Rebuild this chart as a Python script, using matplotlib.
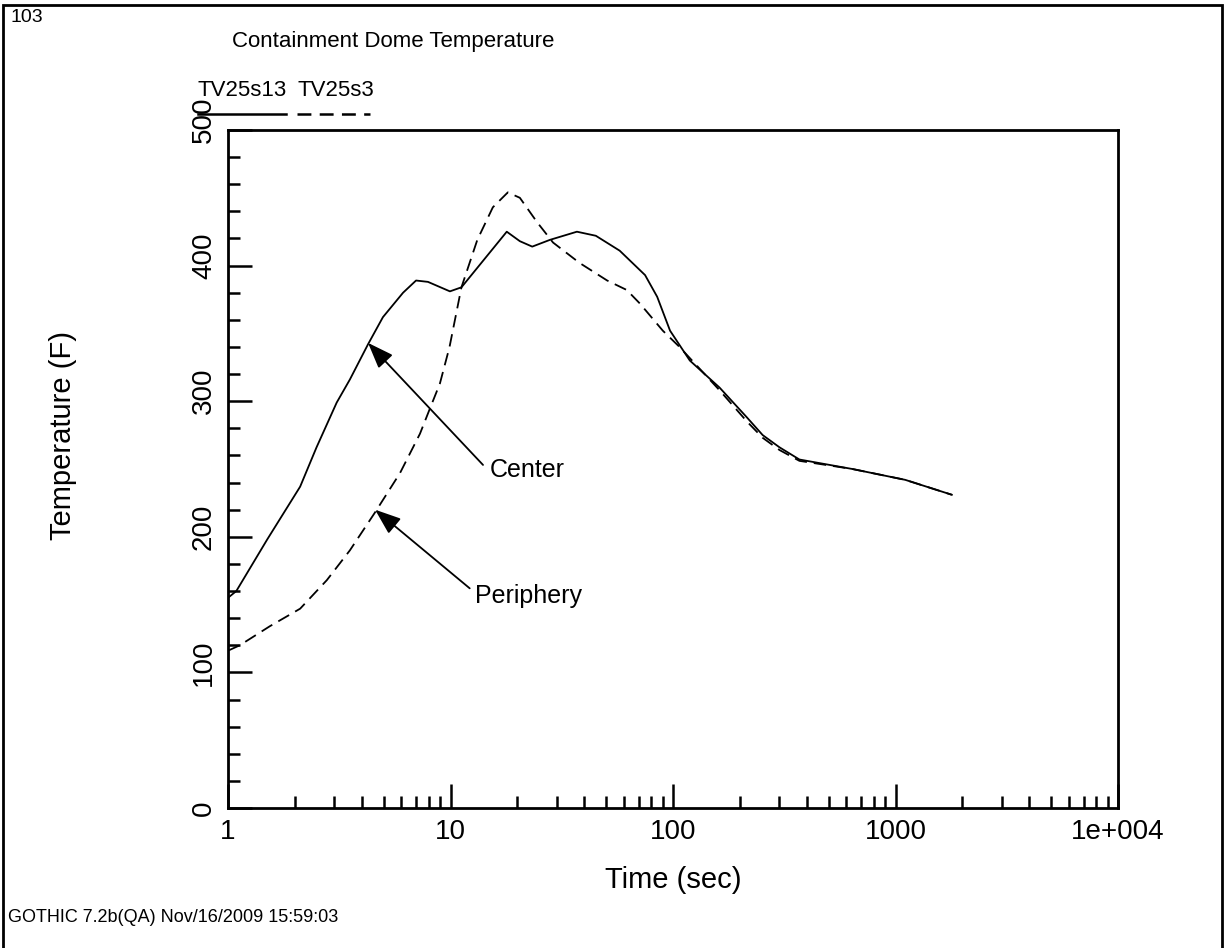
import numpy as np
import matplotlib
matplotlib.use('Agg')
import matplotlib.pyplot as plt
from matplotlib.lines import Line2D
from matplotlib.patches import Rectangle
from matplotlib.ticker import FixedLocator, FixedFormatter, NullFormatter
from matplotlib.transforms import ScaledTranslation


plt.rcParams['font.family'] = ['Liberation Sans', 'DejaVu Sans']
plt.rcParams['lines.scale_dashes'] = False


# Values.
center_t = [1.0, 1.09, 1.5, 2.11, 2.5, 3.08, 3.53, 4.26, 4.97, 6.12, 7.0, 7.92,
            9.94, 11.2, 17.9, 20.5, 23.3, 28.0, 37.0, 45.0, 57.6, 74.9, 84.9,
            97.0, 119, 162, 215, 253, 301, 370, 640, 1106, 1791]
center_T = [155, 160, 198, 237, 266, 299, 316, 342, 362, 380, 389, 388,
            381, 384, 425, 418, 414, 419, 425, 422, 411, 393, 377,
            352, 330, 310, 288, 275, 266, 257, 250, 242, 231]

periph_t = [1.0, 1.13, 1.54, 2.11, 2.78, 3.53, 4.58, 5.93, 7.29, 8.1, 8.96,
            9.9, 11.2, 13.2, 15.5, 18.1, 20.5, 24.5, 28.9, 38.0, 50.6, 62.0,
            71.0, 90.0, 107, 162, 215, 253, 301, 370, 640, 1106, 1791]
periph_T = [116, 120, 134, 147, 168, 190, 218, 247, 276, 295, 313,
            340, 384, 419, 443, 454, 450, 432, 417, 402, 389, 382,
            372, 352, 340, 308, 285, 273, 264, 256, 250, 242, 231]

x_ticks = [1, 10, 100, 1000, 10000]
x_labels = ['1', '10', '100', '1000', '1e+004']
y_ticks = [0, 100, 200, 300, 400, 500]
y_labels = ['0', '100', '200', '300', '400', '500']

series_names = ['TV25s13', 'TV25s3']


fig = plt.figure(figsize=(12.27, 9.48), dpi=100)
ax = fig.add_axes([228 / 1227, 1 - 808 / 948, 890 / 1227, 678 / 948])

dash = (9, 5)
ax.plot(center_t, center_T, color='black', lw=1.3)
ax.plot(periph_t, periph_T, color='black', lw=1.3, dashes=dash)

ax.set_xscale('log')
ax.set_xlim(1, 1e4)
ax.set_ylim(0, 500)

ax.xaxis.set_major_locator(FixedLocator(x_ticks))
ax.xaxis.set_major_formatter(FixedFormatter(x_labels))
minor_x = [m * 10 ** d for d in range(4) for m in range(2, 10)]
ax.xaxis.set_minor_locator(FixedLocator(minor_x))
ax.xaxis.set_minor_formatter(NullFormatter())

ax.yaxis.set_major_locator(FixedLocator(y_ticks))
ax.yaxis.set_major_formatter(FixedFormatter(y_labels))
ax.yaxis.set_minor_locator(FixedLocator(np.arange(0, 501, 20)))

ax.tick_params(which='both', direction='in', top=False, right=False,
               width=1.8, labelsize=20)
ax.tick_params(which='major', length=17, pad=8)
ax.tick_params(which='minor', length=8.5)
ax.tick_params(axis='y', pad=8)

# the 3-digit y labels sit a little above their ticks in the original
nudge = ScaledTranslation(0, 10 / 100, fig.dpi_scale_trans)
for i, tick in enumerate(ax.yaxis.get_major_ticks()):
    tick.label1.set_rotation(90)
    tick.label1.set_va('center')
    if i > 0:
        tick.label1.set_transform(tick.label1.get_transform() + nudge)

for sp in ax.spines.values():
    sp.set_linewidth(2)

ax.set_xlabel('Time (sec)', fontsize=21, labelpad=15)
ax.set_ylabel('Temperature (F)', fontsize=21)
ax.yaxis.set_label_coords(-0.170, 0.549)

# Arrows pointing at each curve.
arrow = dict(arrowstyle='-|>,head_length=1.6,head_width=0.6',
             color='black', lw=1.3, shrinkA=0, shrinkB=0)
ax.annotate('', xy=(4.26, 343), xytext=(14.0, 253), arrowprops=arrow)
ax.text(15.0, 249, 'Center', fontsize=18, va='center', ha='left')
ax.annotate('', xy=(4.58, 220), xytext=(12.2, 162), arrowprops=arrow)
ax.text(12.9, 156, 'Periphery', fontsize=18, va='center', ha='left')

# Legend strip above the axes.
fig.text(198 / 1227, 1 - 90 / 948, series_names[0], fontsize=16, va='center')
fig.text(298 / 1227, 1 - 90 / 948, series_names[1], fontsize=16, va='center')
fig.add_artist(Line2D([198 / 1227, 286 / 1227], [1 - 114 / 948] * 2,
                      color='black', lw=1.8))
fig.add_artist(Line2D([297 / 1227, 370 / 1227], [1 - 114 / 948] * 2,
                      color='black', lw=1.8, dashes=(10, 6)))

fig.text(232 / 1227, 1 - 42 / 948, 'Containment Dome Temperature',
         fontsize=16, va='center')
fig.text(10 / 1227, 1 - 18 / 948, '103', fontsize=14, va='center')
fig.text(8 / 1227, 1 - 918 / 948, 'GOTHIC 7.2b(QA) Nov/16/2009 15:59:03',
         fontsize=13, va='center')

# Outer frame of the page.
fig.add_artist(Rectangle((3 / 1227, -0.1), 1219 / 1227, 1.1 - 5 / 948,
                         transform=fig.transFigure, fill=False,
                         edgecolor='black', lw=2, clip_on=False))

fig.savefig('out.png', dpi=100)
